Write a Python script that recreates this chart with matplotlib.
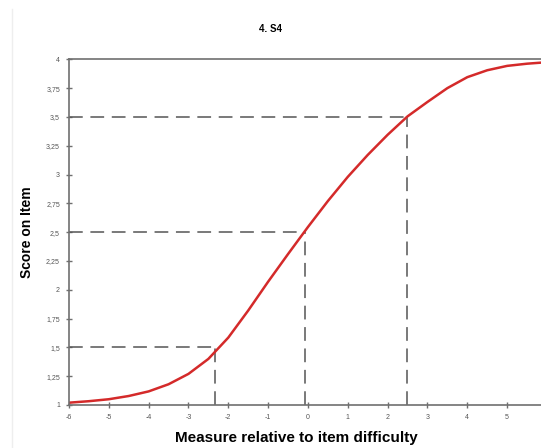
#!/usr/bin/env python3

import matplotlib
matplotlib.use('Agg')
import matplotlib.pyplot as plt
from matplotlib.lines import Line2D

# curve (expected score vs measure)
measure = [-6, -5.5, -5, -4.5, -4, -3.5, -3, -2.5, -2, -1.5, -1, -0.5, 0,
           0.5, 1, 1.5, 2, 2.5, 3, 3.5, 4, 4.5, 5, 5.5, 6]
score = [1.02, 1.033, 1.05, 1.078, 1.118, 1.18, 1.27, 1.40, 1.585, 1.82,
         2.07, 2.31, 2.545, 2.77, 2.98, 3.17, 3.345, 3.505, 3.63, 3.75,
         3.845, 3.905, 3.943, 3.962, 3.975]

# half-point score levels and where the curve reaches them
levels = [1.5, 2.5, 3.5]
level_x = [-2.33, -0.07, 2.48]

xticks = list(range(-6, 6))
yticks = [1, 1.25, 1.5, 1.75, 2, 2.25, 2.5, 2.75, 3, 3.25, 3.5, 3.75, 4]
ytick_labels = [str(v).replace('.', ',') for v in yticks]

plt.rcParams['font.family'] = ['Liberation Sans', 'DejaVu Sans']
plt.rcParams['axes.unicode_minus'] = False

fig = plt.figure(figsize=(5.41, 4.48), dpi=100)
ax = fig.add_axes([0.1275, 0.096, 0.8835, 0.7716])

# faint frame line at the far left
fig.add_artist(Line2D([0.022, 0.022], [0.0, 0.98], color='#eeeeee', lw=1))

for lv, lx in zip(levels, level_x):
    ax.plot([-6, lx], [lv, lv], color='#555555', lw=1.1, dashes=(9, 5))
    ax.plot([lx, lx], [1, lv], color='#555555', lw=1.1, dashes=(9, 5))

ax.plot(measure, score, color='#d42a2a', lw=1.8, solid_joinstyle='round')

ax.set_xlim(-6, 6)
ax.set_ylim(1, 4)
ax.set_xticks(xticks)
ax.set_yticks(yticks)
ax.set_yticklabels(ytick_labels)

ax.spines['right'].set_visible(False)
for side in ['left', 'bottom', 'top']:
    ax.spines[side].set_color('#707070')
    ax.spines[side].set_linewidth(1.2)

ax.tick_params(direction='inout', length=5, width=1, color='#707070',
               labelsize=5, labelcolor='#555555', pad=4)

ax.set_xlabel('Measure relative to item difficulty', fontsize=11,
              fontweight='bold')
ax.set_ylabel('Score on Item', fontsize=10, fontweight='bold')
ax.xaxis.set_label_coords(0.475, -0.075)
ax.yaxis.set_label_coords(-0.073, 0.5)

fig.text(0.5, 0.935, '4. S4', ha='center', va='center', fontsize=7,
         fontweight='bold')

fig.savefig('out.png', dpi=100)
